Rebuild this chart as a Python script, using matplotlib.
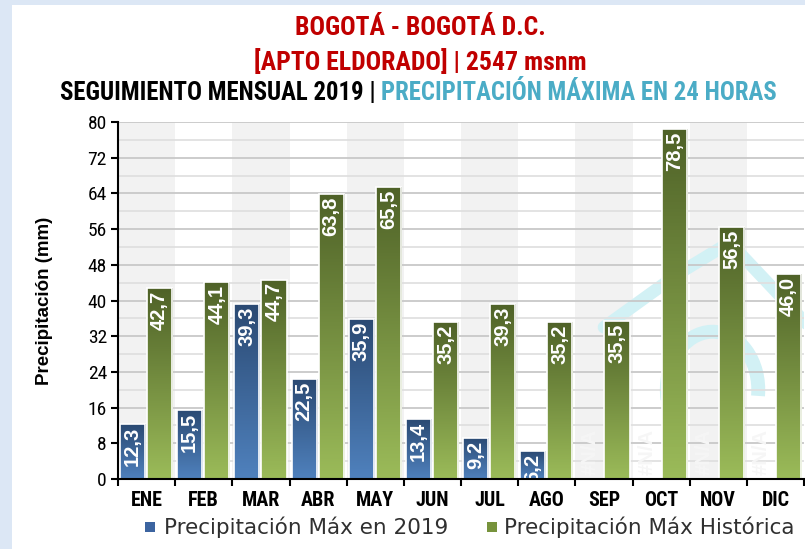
import numpy as np
import matplotlib
matplotlib.use('Agg')
import matplotlib.pyplot as plt
from matplotlib import font_manager
from matplotlib.patches import Rectangle, Arc
from matplotlib.colors import LinearSegmentedColormap

months = ['ENE', 'FEB', 'MAR', 'ABR', 'MAY', 'JUN',
          'JUL', 'AGO', 'SEP', 'OCT', 'NOV', 'DIC']
prec_2019 = [12.3, 15.5, 39.3, 22.5, 35.9, 13.4, 9.2, 6.2,
             np.nan, np.nan, np.nan, np.nan]
prec_hist = [42.7, 44.1, 44.7, 63.8, 65.5, 35.2, 39.3, 35.2,
             35.5, 78.5, 56.5, 46.0]
yticks = np.arange(0, 81, 8)

names = sorted({f.name for f in font_manager.fontManager.ttflist})
narrow = 'Liberation Sans'
for cand in ['Liberation Sans Narrow', 'DejaVu Sans Condensed', 'Roboto Condensed']:
    if cand in names:
        narrow = cand
        break

W, H = 805, 549
fig = plt.figure(figsize=(W / 100, H / 100), dpi=100)
fig.patch.set_facecolor('#dce7f5')
fig.add_artist(Rectangle((12 / W, 0), 1, 1 - 5 / H, transform=fig.transFigure,
                         facecolor='white', edgecolor='none', zorder=0))

ax = fig.add_axes([118 / W, 1 - 479 / H, 686 / W, 357 / H])
ax.set_facecolor('white')
x = np.arange(len(months))

# alternating column shading
for i in x[::2]:
    ax.axvspan(i - 0.5, i + 0.5, color='#f2f2f2', zorder=0, lw=0)

# faint watermark behind the bars
wm = '#d2f1f5'
ax.plot([8.0, 9.3, 10.2, 11.6], [34, 46, 53, 34], color=wm, lw=9,
        solid_capstyle='round', solid_joinstyle='round', zorder=0.5)
ax.add_patch(Arc((9.9, 20), 1.6, 26, theta1=-60, theta2=250, color=wm, lw=10, zorder=0.5))

# grid
for v in np.arange(4, 81, 4):
    ax.axhline(v, color='#c8c8c8' if v % 8 == 0 else '#e0e0e0', lw=1.3, zorder=1)

w = 0.44
blue_cm = LinearSegmentedColormap.from_list('b', ['#4f81bd', '#2b4a73'])
green_cm = LinearSegmentedColormap.from_list('g', ['#9bbb59', '#4f6228'])


def grad_bars(xs, vals, cmap):
    bars = ax.bar(xs, vals, width=w, color='none', edgecolor='white', lw=1.2, zorder=3)
    for b, v in zip(bars, vals):
        if np.isnan(v):
            continue
        x0 = b.get_x()
        img = ax.imshow(np.linspace(0, 1, 100).reshape(-1, 1), cmap=cmap,
                        origin='lower', aspect='auto',
                        extent=(x0, x0 + w, 0, v), zorder=2)
        img.set_clip_path(b)
    return bars


grad_bars(x - 0.245, prec_2019, blue_cm)
grad_bars(x + 0.23, prec_hist, green_cm)
ax.set_xlim(-0.5, len(months) - 0.5)
ax.set_ylim(0, 80)

lab = dict(rotation=90, ha='center', va='top', color='white', fontsize=14.5,
           fontweight='bold', family='Liberation Sans', zorder=4)
for xi, v in zip(x, prec_2019):
    if np.isnan(v):
        ax.text(xi - 0.245, 0.8, '#N/A', **{**lab, 'va': 'bottom', 'color': '#f6f6f6'})
    else:
        ax.text(xi - 0.245, v - 0.6, f'{v:.1f}'.replace('.', ','), **lab)
for xi, v in zip(x, prec_hist):
    ax.text(xi + 0.23, v - 0.6, f'{v:.1f}'.replace('.', ','), **lab)

for s in ['top', 'right']:
    ax.spines[s].set_visible(False)
for s in ['left', 'bottom']:
    ax.spines[s].set_linewidth(1.5)
    ax.spines[s].set_zorder(5)

ax.set_yticks(yticks)
ax.set_yticklabels([str(t) for t in yticks], family=narrow, fontsize=14)
ax.tick_params(axis='y', length=5, width=1.5, pad=3)
ax.set_xticks(np.arange(-0.5, len(months), 1))
ax.set_xticklabels([])
ax.set_xticks(x, minor=True)
ax.set_xticklabels(months, minor=True, family=narrow, fontsize=14.5, fontweight='bold')
ax.tick_params(axis='x', which='major', length=5, width=1.5)
ax.tick_params(axis='x', which='minor', length=0, pad=9)
ax.set_ylabel('Precipitación (mm)', fontsize=13.5, fontweight='bold', labelpad=25,
              family='Liberation Sans')

# titles
fig.text(420 / W, 1 - 28 / H, 'BOGOTÁ - BOGOTÁ D.C.', ha='center', va='center',
         color='#c00000', fontsize=18.5, fontweight='bold', family=narrow)
fig.text(420 / W, 1 - 62 / H, '[APTO ELDORADO] | 2547 msnm', ha='center', va='center',
         color='#c00000', fontsize=18.5, fontweight='bold', family=narrow)
t1 = fig.text(60 / W, 1 - 93 / H, 'SEGUIMIENTO MENSUAL 2019 | ', ha='left', va='center',
              color='black', fontsize=17.8, fontweight='bold', family=narrow)
fig.canvas.draw()
bb = t1.get_window_extent()
fig.text(bb.x1 / fig.bbox.width, 1 - 93 / H, 'PRECIPITACIÓN MÁXIMA EN 24 HORAS',
         ha='left', va='center', color='#4bacc6', fontsize=17.8, fontweight='bold',
         family=narrow)

# legend
fig.add_artist(Rectangle((145 / W, 1 - 532 / H), 10 / W, 10 / H,
                         transform=fig.transFigure, facecolor='#3c64a0', edgecolor='none'))
fig.text(164 / W, 1 - 527 / H, 'Precipitación Máx en 2019', ha='left', va='center',
         fontsize=15.5, color='#303030')
fig.add_artist(Rectangle((487 / W, 1 - 532 / H), 10 / W, 10 / H,
                         transform=fig.transFigure, facecolor='#77933c', edgecolor='none'))
fig.text(504 / W, 1 - 527 / H, 'Precipitación Máx Histórica', ha='left', va='center',
         fontsize=15.5, color='#303030')

fig.savefig('out.png', dpi=100, facecolor=fig.get_facecolor())
